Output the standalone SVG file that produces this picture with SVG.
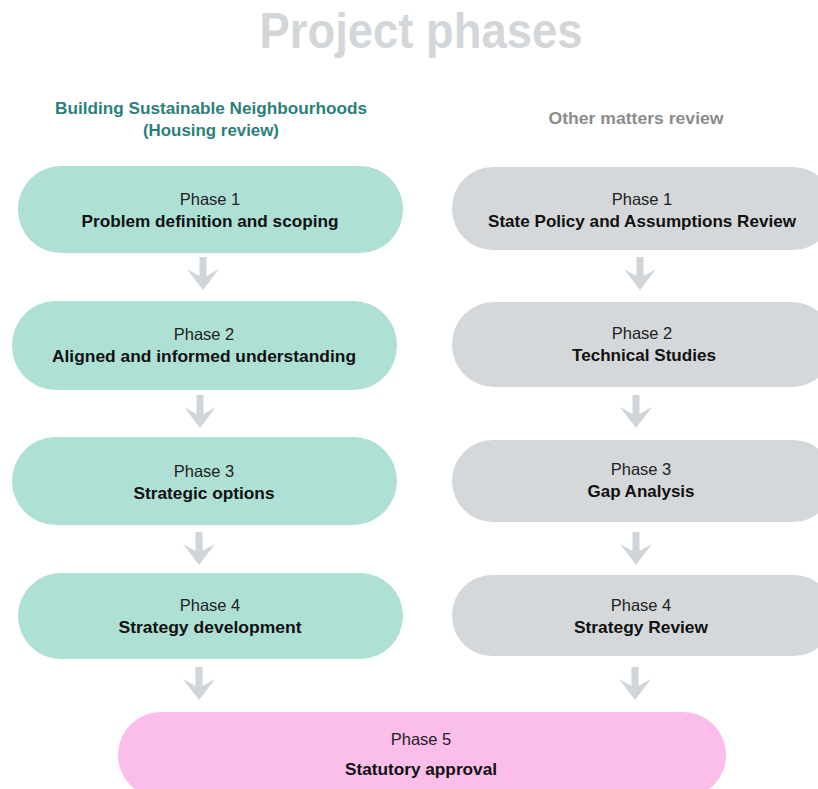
<svg xmlns="http://www.w3.org/2000/svg" xmlns:xlink="http://www.w3.org/1999/xlink" width="818" height="789" viewBox="0 0 818 789">
<style>
text{font-family:"Liberation Sans",Arial,sans-serif;text-anchor:middle}
.title{font-size:50px;font-weight:bold;fill:#d3d7da}
.hdrL{font-size:17px;font-weight:bold;fill:#2b7f7b}
.hdrR{font-size:17px;font-weight:bold;fill:#8c8c8c}
.ph{font-size:16.5px;fill:#222}
.nm{font-size:16.5px;font-weight:bold;fill:#111}
.teal{fill:#aee0d6}
.grey{fill:#d5d8da}
.pink{fill:#fbbde9}
.arr{fill:#d0d5d9}
</style>
<defs>
<path id="arrow" d="M-3.5,0 H3.5 V19 L16,12 L0,33 L-16,12 L-3.5,19 Z"/>
</defs>
<rect width="818" height="789" fill="#ffffff"/>
<text class="title" x="421" y="48" textLength="323" lengthAdjust="spacingAndGlyphs">Project phases</text>
<g id="header-left">
<text class="hdrL" x="211" y="114" textLength="312" lengthAdjust="spacingAndGlyphs">Building Sustainable Neighbourhoods</text>
<text class="hdrL" x="211" y="136" textLength="136" lengthAdjust="spacingAndGlyphs">(Housing review)</text>
</g>
<g id="header-right">
<text class="hdrR" x="636" y="124" textLength="175" lengthAdjust="spacingAndGlyphs">Other matters review</text>
</g>
<g id="connectors" class="arr">
<use xlink:href="#arrow" x="203" y="257"/>
<use xlink:href="#arrow" x="200" y="395"/>
<use xlink:href="#arrow" x="199" y="532"/>
<use xlink:href="#arrow" x="199" y="667"/>
<use xlink:href="#arrow" x="640" y="257"/>
<use xlink:href="#arrow" x="636" y="395"/>
<use xlink:href="#arrow" x="636" y="532"/>
<use xlink:href="#arrow" x="635" y="667"/>
</g>
<g id="L1">
<rect class="teal" x="18" y="166" width="385" height="87" rx="43"/>
<text class="ph" x="210" y="205">Phase 1</text>
<text class="nm" x="210" y="227" textLength="257" lengthAdjust="spacingAndGlyphs">Problem definition and scoping</text>
</g>
<g id="L2">
<rect class="teal" x="12" y="301" width="385" height="89" rx="44"/>
<text class="ph" x="204" y="340">Phase 2</text>
<text class="nm" x="204" y="362" textLength="304" lengthAdjust="spacingAndGlyphs">Aligned and informed understanding</text>
</g>
<g id="L3">
<rect class="teal" x="12" y="437" width="385" height="88" rx="44"/>
<text class="ph" x="204" y="477">Phase 3</text>
<text class="nm" x="204" y="499" textLength="141" lengthAdjust="spacingAndGlyphs">Strategic options</text>
</g>
<g id="L4">
<rect class="teal" x="18" y="573" width="385" height="86" rx="43"/>
<text class="ph" x="210" y="611">Phase 4</text>
<text class="nm" x="210" y="633" textLength="183" lengthAdjust="spacingAndGlyphs">Strategy development</text>
</g>
<g id="R1">
<rect class="grey" x="452" y="167" width="382" height="83" rx="41"/>
<text class="ph" x="642" y="205">Phase 1</text>
<text class="nm" x="642" y="227" textLength="308" lengthAdjust="spacingAndGlyphs">State Policy and Assumptions Review</text>
</g>
<g id="R2">
<rect class="grey" x="452" y="302" width="382" height="85" rx="42"/>
<text class="ph" x="642" y="339">Phase 2</text>
<text class="nm" x="644" y="361" textLength="144" lengthAdjust="spacingAndGlyphs">Technical Studies</text>
</g>
<g id="R3">
<rect class="grey" x="452" y="440" width="382" height="82" rx="41"/>
<text class="ph" x="641" y="475">Phase 3</text>
<text class="nm" x="641" y="497" textLength="107" lengthAdjust="spacingAndGlyphs">Gap Analysis</text>
</g>
<g id="R4">
<rect class="grey" x="452" y="575" width="382" height="81" rx="40"/>
<text class="ph" x="641" y="611">Phase 4</text>
<text class="nm" x="641" y="633" textLength="134" lengthAdjust="spacingAndGlyphs">Strategy Review</text>
</g>
<g id="P5">
<rect class="pink" x="118" y="712" width="608" height="86" rx="43"/>
<text class="ph" x="421" y="745">Phase 5</text>
<text class="nm" x="421" y="775" textLength="152" lengthAdjust="spacingAndGlyphs">Statutory approval</text>
</g>
</svg>
